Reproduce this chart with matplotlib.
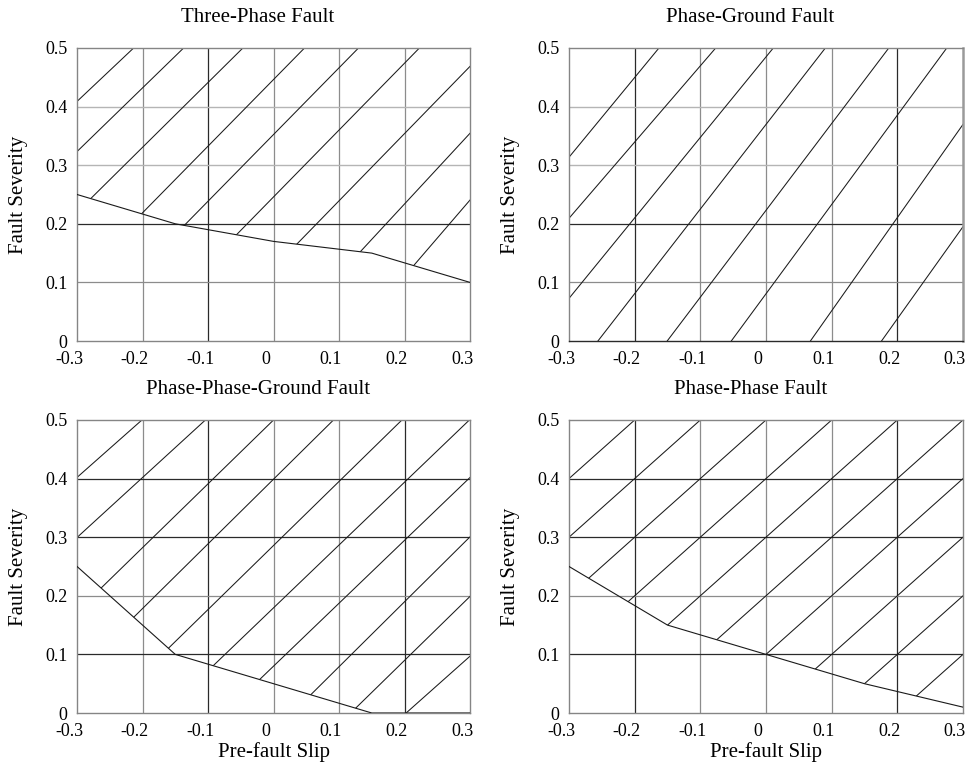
import numpy as np
import matplotlib.pyplot as plt
import matplotlib.transforms as mtransforms
from matplotlib.patches import Polygon

plt.rcParams['font.family'] = ['Liberation Serif', 'DejaVu Serif']
plt.rcParams['axes.unicode_minus'] = False

titles = ['Three-Phase Fault', 'Phase-Ground Fault',
          'Phase-Phase-Ground Fault', 'Phase-Phase Fault']
x_ticks = [-0.3, -0.2, -0.1, 0, 0.1, 0.2, 0.3]
x_ticklabels = ['-0.3', '-0.2', '-0.1', '0', '0.1', '0.2', '0.3']
y_ticks = [0, 0.1, 0.2, 0.3, 0.4, 0.5]
y_ticklabels = ['0', '0.1', '0.2', '0.3', '0.4', '0.5']

# stability boundary (fault severity vs pre-fault slip)
tp_slip = [-0.3, -0.15, 0, 0.15, 0.3]
tp_severity = [0.25, 0.20, 0.17, 0.15, 0.10]
pg_slip = [-0.3, 0.3]
pg_severity = [0.0, 0.0]
ppg_slip = [-0.3, -0.15, 0.15, 0.3]
ppg_severity = [0.25, 0.10, 0.0, 0.0]
pp_slip = [-0.3, -0.15, 0, 0.15, 0.3]
pp_severity = [0.25, 0.15, 0.10, 0.05, 0.01]

# hatch lines: slip where each line crosses severity 0 (lo) and 0.5 (hi)
tp_hatch_lo = [-0.6875, -0.5977, -0.4988, -0.3924, -0.3096, -0.2155, -0.1086, 0.0062, 0.1149]
tp_hatch_hi = [-0.2136, -0.1373, -0.0468, 0.0473, 0.1297, 0.2227, 0.3273, 0.4205, 0.4995]
pg_hatch_lo = [-0.5305, -0.461, -0.353, -0.256, -0.1505, -0.0529, 0.0676, 0.1759]
pg_hatch_hi = [-0.163, -0.0766, 0.0111, 0.0904, 0.187, 0.2753, 0.382, 0.494]
ppg_hatch_lo = [-0.7065, -0.5928, -0.459, -0.3615, -0.2616, -0.1674, -0.0745, 0.0287, 0.1178, 0.2024]
ppg_hatch_hi = [-0.2009, -0.104, 0.0, 0.0915, 0.196, 0.299, 0.3913, 0.4799, 0.5756, 0.7054]
pp_hatch_lo = [-0.7, -0.6, -0.5, -0.4, -0.3, -0.2, -0.1, 0.0, 0.1, 0.2]
pp_hatch_hi = [-0.2, -0.1, 0.0, 0.1, 0.2, 0.3, 0.4, 0.5, 0.6, 0.7]

# grid lines that print darker in the original
tp_dark_x, tp_dark_y = [-0.1], [0.2]
pg_dark_x, pg_dark_y = [-0.2, 0.2], [0.2]
ppg_dark_x, ppg_dark_y = [-0.1, 0.2], [0.1, 0.3, 0.4]
pp_dark_x, pp_dark_y = [-0.2, 0.2], [0.1, 0.3, 0.4]

panels = [
    (tp_slip, tp_severity, tp_hatch_lo, tp_hatch_hi, tp_dark_x, tp_dark_y, True),
    (pg_slip, pg_severity, pg_hatch_lo, pg_hatch_hi, pg_dark_x, pg_dark_y, False),
    (ppg_slip, ppg_severity, ppg_hatch_lo, ppg_hatch_hi, ppg_dark_x, ppg_dark_y, True),
    (pp_slip, pp_severity, pp_hatch_lo, pp_hatch_hi, pp_dark_x, pp_dark_y, True),
]
positions = [
    [0.0791, 0.5594, 0.4035, 0.3786],
    [0.5842, 0.5594, 0.4045, 0.3786],
    [0.0791, 0.0788, 0.4035, 0.3786],
    [0.5842, 0.0788, 0.4045, 0.3786],
]

fig = plt.figure(figsize=(9.74, 7.74), dpi=100)
shift = mtransforms.ScaledTranslation(-8 / 100, 0, fig.dpi_scale_trans)

for i, (slip, sev, lo, hi, dark_x, dark_y, show_boundary) in enumerate(panels):
    ax = fig.add_axes(positions[i])
    ax.set_xlim(-0.3, 0.3)
    ax.set_ylim(0, 0.5)

    # grid
    for gx in x_ticks[1:-1]:
        c = '#2a2a2a' if gx in dark_x else '#8c8c8c'
        ax.axvline(gx, color=c, lw=0.9, zorder=1)
    for gy in y_ticks[1:-1]:
        if gy in dark_y:
            c = '#2a2a2a'
        elif i < 2 and gy >= 0.3:
            c = '#b5b5b5'
        else:
            c = '#8c8c8c'
        ax.axhline(gy, color=c, lw=1.0 if i < 2 and gy >= 0.3 else 0.9, zorder=1)

    # unstable region hatched above the boundary
    verts = list(zip(slip, sev)) + [(0.3, 0.5), (-0.3, 0.5)]
    region = Polygon(verts, closed=True, facecolor='none', edgecolor='none')
    ax.add_patch(region)
    for a, b in zip(lo, hi):
        ln, = ax.plot([a, b], [0, 0.5], color='#1a1a1a', lw=0.75, zorder=2)
        ln.set_clip_path(region)
    if show_boundary:
        ax.plot(slip, sev, color='#1a1a1a', lw=0.8, zorder=3)

    ax.set_xticks(x_ticks)
    ax.set_xticklabels(x_ticklabels)
    ax.set_yticks(y_ticks)
    ax.set_yticklabels(y_ticklabels)
    ax.tick_params(length=0, labelsize=13, pad=7)
    for lab in ax.get_xticklabels():
        lab.set_transform(lab.get_transform() + shift)
    for s in ax.spines.values():
        s.set_color('#858585')
        s.set_linewidth(1.0)
    if i == 1:
        ax.spines['right'].set_linewidth(1.8)
        ax.spines['right'].set_color('#9a9a9a')
        ax.spines['bottom'].set_color('#2a2a2a')

    ax.set_title(titles[i], fontsize=15, pad=19, x=0.46)
    ax.set_ylabel('Fault Severity', fontsize=15, labelpad=12)
    if i >= 2:
        ax.set_xlabel('Pre-fault Slip', fontsize=15, labelpad=2)

fig.savefig('out.png', dpi=100)
